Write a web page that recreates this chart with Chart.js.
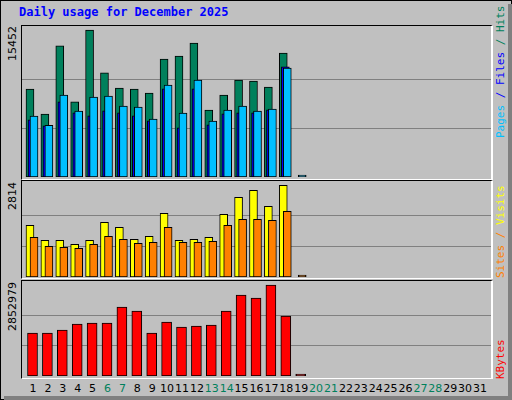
<!DOCTYPE html>
<html><head><meta charset="utf-8">
<script src="https://cdn.jsdelivr.net/npm/chart.js"></script>
<style>
body{margin:0;background:#fff}
#w{position:absolute;left:0;top:0;width:510px;height:398px;background:#C0C0C0;border:1px solid #000;overflow:hidden}
#sh{position:absolute;left:508px;top:4px;width:4px;height:396px;background:#808080}
#sh2{position:absolute;left:4px;top:396px;width:508px;height:4px;background:#808080}
.pn{position:absolute;left:20px;width:469px;border-top:1px solid #000;border-left:1px solid #000;border-bottom:1px solid #fff;border-right:2px solid #fff;box-sizing:content-box}
.t{position:absolute;font-family:"DejaVu Sans Mono",monospace;white-space:nowrap}
.rot{position:absolute;transform:rotate(-90deg);transform-origin:0 0;white-space:nowrap;font-family:"DejaVu Sans Mono",monospace;font-size:11px}
.xl{position:absolute;top:381px;width:20px;text-align:center;font-family:"DejaVu Sans",sans-serif;font-size:11px}
</style></head><body>
<div id="w"></div><div id="sh"></div><div id="sh2"></div>
<script>
const days=[];for(let i=1;i<=31;i++)days.push(i);
const weekend=[6,7,13,14,20,21,27,28];
const hits=[9236,6602,13801,7902,15452,10957,9341,9236,8815,12397,12713,14082,7024,8604,10184,10079,9447,13029,0];
const files=[6005,5373,7902,6743,6427,6954,6743,6427,5900,9271,5163,9271,5479,6638,6743,6743,7059,11590,0];
const pages=[6392,5444,8604,6919,8394,8499,7445,7340,6076,9658,6708,10185,5865,7024,7445,6919,7129,11449,0];
const visits=[1586,1126,1126,1003,1126,1678,1525,1156,1248,1955,1126,1156,1218,1924,2446,2661,2169,2814,0];
const sites=[1218,941,911,880,1003,1248,1156,1034,1064,1525,1064,1064,1095,1586,1770,1770,1740,2016,0];
const kbytes=[1348115,1348115,1442169,1630278,1661630,1661630,2163254,2037848,1348115,1692981,1536224,1567575,1598927,2037848,2539472,2445417,2852979,1881090,0];
const maxHits=15452,maxVisits=2814,maxK=2852979;

const W=document.getElementById('w');
function el(cls,txt,css){const d=document.createElement('div');d.className=cls;d.textContent=txt;Object.assign(d.style,css);W.appendChild(d);return d;}
[[24,153],[179,97],[279,97]].forEach(([t,h])=>el('pn','',{top:t+'px',height:h+'px'}));
el('t','Daily usage for December 2025',{top:'4px',left:'18px',color:'#0000FF',fontWeight:'bold',fontSize:'12px'});
days.forEach(d=>el('xl',String(d),{left:(32+(d-1)*14.9-10)+'px',color:weekend.includes(d)?'#00805C':'#000'}));
function rotL(txt,x,yTop){const d=el('rot',txt,{color:'#000',fontFamily:'"DejaVu Sans",sans-serif',fontSize:'11px'});const w=d.offsetWidth;d.style.left=x+'px';d.style.top=(yTop+w)+'px';}
rotL(String(maxHits),5,25);rotL(String(maxVisits),5,181);rotL(String(maxK),5,281);
function rotR(parts,x,yBottom){const d=document.createElement('div');d.className='rot';parts.forEach(([t,c])=>{const s=document.createElement('span');s.textContent=t;s.style.color=c;d.appendChild(s);});W.appendChild(d);d.style.left=x+'px';d.style.top=yBottom+'px';}
rotR([['Pages','#00C0FF'],[' / ','#0000FF'],['Files','#0000FF'],[' / ','#00805C'],['Hits','#00805C']],493,137);
rotR([['Sites','#FF8000'],[' / ','#FF8000'],['Visits','#FFFF00']],493,277);
rotR([['KBytes','#FF0000']],493,378);

const xmin=1-(33-21)/14.9,xmax=31+(490-480)/14.9;
function mk(top,h,ymax,maxv,sets){
  const wrap=document.createElement('div');wrap.style.cssText='position:absolute;left:21px;top:'+top+'px;width:469px;height:'+h+'px';
  const cv=document.createElement('canvas');wrap.appendChild(cv);W.appendChild(wrap);
  new Chart(cv,{type:'bar',data:{datasets:sets.map(s=>({data:s.v.map((y,i)=>({x:i+1+s.off,y:y})),backgroundColor:s.c,borderColor:'#000',borderWidth:1,borderSkipped:false,barThickness:s.w,grouped:false,order:s.o,minBarLength:s.z?2:0}))},
  options:{responsive:true,maintainAspectRatio:false,animation:false,events:[],layout:{padding:0},
   plugins:{legend:{display:false},tooltip:{enabled:false}},
   scales:{x:{type:'linear',display:false,min:xmin,max:xmax,offset:false},
    y:{display:true,min:0,max:ymax,position:'left',border:{display:false},ticks:{display:false},
       afterBuildTicks:a=>{a.ticks=[{value:maxv/3},{value:2*maxv/3}]},
       afterFit:a=>{a.width=0},
       grid:{color:'#808080',lineWidth:1,drawTicks:false}}}}});
}
const nz=a=>a.map(v=>v===0?null:v);
mk(26,150,maxHits*150/147,maxHits,[
 {v:nz(hits),off:-0.27,w:8,c:'#00805C',o:3},
 {v:nz(files),off:-0.13,w:8,c:'#0000FF',o:2},
 {v:pages,off:0,w:8,c:'#00C0FF',o:1,z:1}]);
mk(181,95,maxVisits*95/91.7,maxVisits,[
 {v:nz(visits),off:-0.27,w:8,c:'#FFFF00',o:2},
 {v:sites,off:0,w:8,c:'#FF8000',o:1,z:1}]);
mk(281,94,maxK*94/91,maxK,[
 {v:kbytes,off:-0.1,w:10,c:'#FF0000',o:1,z:1}]);
</script></body></html>
